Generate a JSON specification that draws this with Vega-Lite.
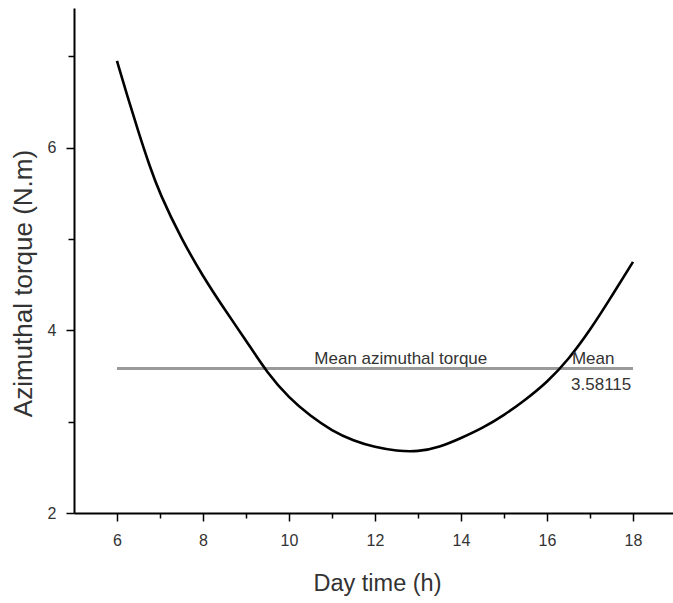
{
  "$schema": "https://vega.github.io/schema/vega-lite/v6.json",
  "width": 599,
  "height": 505,
  "autosize": {"type": "none"},
  "padding": {"left": 74, "top": 8, "right": 0, "bottom": 90},
  "background": "white",
  "config": {
    "view": {"stroke": null},
    "axis": {
      "grid": false,
      "domainColor": "black",
      "domainWidth": 2,
      "tickColor": "black",
      "tickWidth": 1.5,
      "labelFont": "Liberation Sans",
      "titleFont": "Liberation Sans",
      "labelColor": "#333333",
      "titleColor": "#333333",
      "labelFontSize": 16,
      "titleFontWeight": "normal"
    }
  },
  "datasets": {
    "torque": [
      {"time": 6, "torque": 6.95},
      {"time": 6.25, "torque": 6.55},
      {"time": 6.5, "torque": 6.17},
      {"time": 6.75, "torque": 5.81},
      {"time": 7, "torque": 5.49},
      {"time": 7.5, "torque": 5.0},
      {"time": 8, "torque": 4.59},
      {"time": 8.5, "torque": 4.23},
      {"time": 9, "torque": 3.89},
      {"time": 9.5, "torque": 3.53},
      {"time": 10, "torque": 3.26},
      {"time": 10.5, "torque": 3.06},
      {"time": 11, "torque": 2.9},
      {"time": 11.5, "torque": 2.79},
      {"time": 12, "torque": 2.72},
      {"time": 12.5, "torque": 2.68},
      {"time": 13, "torque": 2.67},
      {"time": 13.5, "torque": 2.72},
      {"time": 14, "torque": 2.82},
      {"time": 14.5, "torque": 2.93},
      {"time": 15, "torque": 3.07},
      {"time": 15.5, "torque": 3.24},
      {"time": 16, "torque": 3.43},
      {"time": 16.5, "torque": 3.68},
      {"time": 17, "torque": 4.0},
      {"time": 17.5, "torque": 4.37},
      {"time": 18, "torque": 4.75}
    ],
    "mean": [
      {"start": 6, "end": 18, "mean": 3.58115, "label": "Mean azimuthal torque", "short": "Mean"}
    ]
  },
  "resolve": {"axis": {"x": "independent", "y": "independent"}},
  "layer": [
    {
      "data": {"name": "mean"},
      "mark": {"type": "rule", "color": "#9a9a9a", "strokeWidth": 3},
      "encoding": {
        "x": {
          "field": "start", "type": "quantitative",
          "scale": {"domain": [5, 18.93], "nice": false, "zero": false},
          "axis": {"orient": "bottom", "values": [7, 9, 11, 13, 15, 17], "labels": false, "domain": false, "tickSize": 5, "title": null}
        },
        "x2": {"field": "end"},
        "y": {
          "field": "mean", "type": "quantitative",
          "scale": {"domain": [2, 7.53], "nice": false, "zero": false},
          "axis": {"orient": "left", "values": [3, 5, 7], "labels": false, "domain": false, "tickSize": 6, "title": null}
        }
      }
    },
    {
      "data": {"name": "torque"},
      "mark": {"type": "line", "color": "black", "strokeWidth": 2.6, "interpolate": "basis"},
      "encoding": {
        "x": {
          "field": "time", "type": "quantitative",
          "scale": {"domain": [5, 18.93], "nice": false, "zero": false},
          "axis": {
            "orient": "bottom", "values": [6, 8, 10, 12, 14, 16, 18], "tickSize": 8, "labelPadding": 11,
            "title": "Day time (h)", "titleFontSize": 23.5, "titleBaseline": "alphabetic", "titleAlign": "center",
            "titleX": 303, "titleY": 77
          }
        },
        "y": {
          "field": "torque", "type": "quantitative",
          "scale": {"domain": [2, 7.53], "nice": false, "zero": false},
          "axis": {
            "orient": "left", "values": [2, 4, 6], "tickSize": 8, "labelPadding": 10,
            "title": "Azimuthal torque (N.m)", "titleFontSize": 26, "titleAngle": -90, "titleBaseline": "alphabetic",
            "titleAlign": "center", "titleX": -43, "titleY": 275
          }
        }
      }
    },
    {
      "data": {"name": "mean"},
      "mark": {"type": "text", "font": "Liberation Sans", "fontSize": 17, "color": "#333333", "align": "center", "baseline": "alphabetic", "dy": -5},
      "encoding": {
        "x": {"datum": 12.6, "type": "quantitative", "axis": null},
        "y": {"field": "mean", "type": "quantitative", "axis": null},
        "text": {"field": "label"}
      }
    },
    {
      "data": {"name": "mean"},
      "mark": {"type": "text", "font": "Liberation Sans", "fontSize": 17, "color": "#333333", "align": "left", "baseline": "alphabetic", "dy": -5},
      "encoding": {
        "x": {"datum": 16.58, "type": "quantitative", "axis": null},
        "y": {"field": "mean", "type": "quantitative", "axis": null},
        "text": {"field": "short"}
      }
    },
    {
      "data": {"name": "mean"},
      "mark": {"type": "text", "font": "Liberation Sans", "fontSize": 17, "color": "#333333", "align": "left", "baseline": "alphabetic", "dy": 21},
      "encoding": {
        "x": {"datum": 16.56, "type": "quantitative", "axis": null},
        "y": {"field": "mean", "type": "quantitative", "axis": null},
        "text": {"field": "mean", "format": ".5f"}
      }
    }
  ]
}
